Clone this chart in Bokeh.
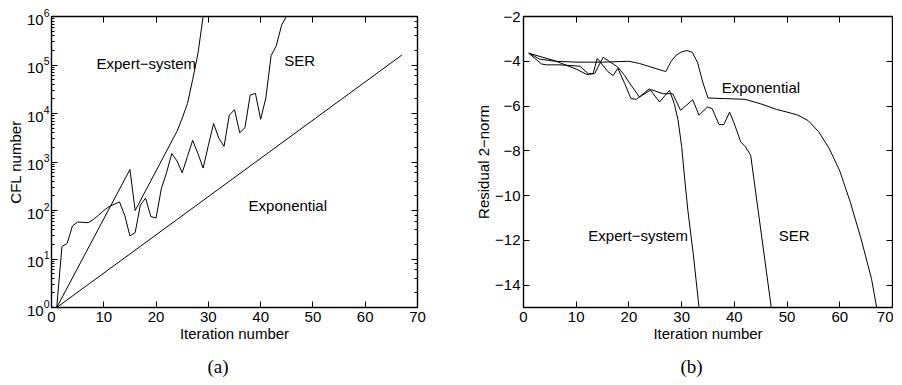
from bokeh.plotting import figure
from bokeh.models import Range1d, LinearAxis, LogAxis, CustomJSTickFormatter, FixedTicker, Spacer
from bokeh.layouts import row
from bokeh.core.properties import value
from bokeh.embed import file_html
from bokeh.resources import INLINE

# ---------------- data: (a) CFL number ----------------
x_ticks = [0, 10, 20, 30, 40, 50, 60, 70]

exp_iter_a = [1, 67]
exp_cfl = [1, 1.6e5]

es_iter_a = [1, 15, 16, 24, 25, 26, 27, 28, 29]
es_cfl = [1, 700, 100, 4300, 8000, 16000, 50000, 170000, 1.0e6]

ser_iter_a = list(range(1, 46))
ser_cfl = [1, 18, 21, 48, 58, 57, 56, 65, 80, 100,
           120, 135, 150, 80, 30, 35, 130, 180, 75, 70,
           280, 600, 1500, 1050, 600, 1300, 2800, 1500, 750, 2200,
           6200, 3100, 2100, 9200, 12000, 4000, 5100, 24000, 26000, 7600,
           21000, 156000, 250000, 660000, 1.05e6]

# ---------------- data: (b) residual 2-norm ----------------
y_ticks_b = [-14, -12, -10, -8, -6, -4, -2]

exp_iter_b = [1, 3, 6, 10, 15, 20, 22, 27, 28, 29, 30, 31, 32, 33, 34, 35,
              42, 45, 48, 50, 52, 54, 56, 58, 60, 62, 64, 66, 67]
exp_res = [-3.63, -3.9, -4.0, -4.04, -4.04, -4.0, -4.1, -4.46, -4.0, -3.72,
           -3.58, -3.52, -3.6, -4.04, -4.93, -5.64, -5.7, -5.9, -6.15, -6.27,
           -6.4, -6.65, -7.15, -7.9, -8.9, -10.3, -11.9, -13.7, -15.0]

es_iter_b = [1, 3.4, 4.4, 6.9, 10.7, 12.3, 13.2, 14, 16, 17, 17.9, 19.2, 20.4,
             21.4, 23.9, 25.8, 27.7, 28.6, 29.3, 30, 30.6, 31.2, 32.2, 33.3]
es_res = [-3.64, -4.12, -4.16, -4.16, -4.22, -4.56, -4.55, -3.87, -4.46, -4.64,
          -4.31, -5.0, -5.67, -5.7, -5.23, -5.82, -5.3, -5.9, -6.6, -7.8,
          -9.3, -10.7, -12.6, -15.0]

ser_iter_b = [1, 6, 10, 12, 13.5, 15.1, 17.9, 19.2, 20.2, 22, 24.2, 26.5, 28.3,
              29.8, 32.1, 33.3, 34.9, 35.8, 37.1, 38, 39.1, 40.1, 41.2, 42.1,
              43.1, 47]
ser_res = [-3.64, -3.98, -4.35, -4.59, -4.55, -3.82, -4.26, -4.64, -5.0, -5.6,
           -5.27, -5.45, -5.45, -6.19, -5.72, -6.41, -6.04, -6.12, -6.83, -6.83,
           -6.27, -6.86, -7.6, -7.82, -8.2, -15.0]

FONT = "Liberation Sans"
FS = "15px"
BLANK = CustomJSTickFormatter(code="return '';")


def style_axis(ax, labels=True, minor=True, standoff=4):
    ax.axis_line_color = "black"
    ax.axis_line_width = 1.4
    ax.major_tick_in = 6
    ax.major_tick_out = 0
    ax.minor_tick_in = 3
    ax.minor_tick_out = 0
    ax.major_tick_line_color = "black"
    ax.minor_tick_line_color = "black" if minor else None
    ax.major_label_text_font = FONT
    ax.major_label_text_color = "black"
    ax.major_label_text_font_size = FS
    ax.axis_label_text_font = FONT
    ax.axis_label_text_font_size = FS
    ax.axis_label_text_font_style = "normal"
    ax.axis_label_text_color = "black"
    ax.axis_label_standoff = 0
    if labels:
        ax.major_label_standoff = standoff
    else:
        ax.formatter = BLANK
        ax.major_label_standoff = 0


def style_title(p, offset):
    p.title.align = "left"
    p.title.offset = offset
    p.title.standoff = 18
    p.title.text_font = "Liberation Serif"
    p.title.text_font_size = "19px"
    p.title.text_font_style = "normal"
    p.title.text_color = "black"


# ---------------- figure (a) ----------------
p1 = figure(frame_width=366, frame_height=291, x_range=Range1d(0, 70), y_range=Range1d(1, 1e6),
            y_axis_type="log", output_backend="svg", toolbar_location=None,
            title="(a)", title_location="below",
            min_border_left=36, min_border_right=30, min_border_top=16, min_border_bottom=60)
p1.grid.visible = False
p1.outline_line_color = None
p1.background_fill_color = "white"
p1.xaxis.ticker = FixedTicker(ticks=x_ticks)
p1.xaxis.axis_label = "Iteration number"
p1.yaxis.axis_label = "CFL number"
style_axis(p1.xaxis[0], labels=True, minor=False, standoff=4)
style_axis(p1.yaxis[0], labels=True, minor=True, standoff=2)
top1 = LinearAxis(ticker=FixedTicker(ticks=x_ticks))
style_axis(top1, labels=False, minor=False)
p1.add_layout(top1, "above")
right1 = LogAxis()
style_axis(right1, labels=False, minor=True)
p1.add_layout(right1, "right")
style_title(p1, 156)

p1.line(exp_iter_a, exp_cfl, line_color="black", line_width=1)
p1.line(es_iter_a, es_cfl, line_color="black", line_width=1)
p1.line(ser_iter_a, ser_cfl, line_color="black", line_width=1)

p1.text(x=[8.6, 44.5, 37.7], y=[10**5.03, 10**5.09, 10**2.1],
        text=["Expert\u2212system", "SER", "Exponential"],
        text_font=value(FONT), text_font_size=value(FS), text_color="black",
        text_align="left", text_baseline="middle")

# ---------------- figure (b) ----------------
p2 = figure(frame_width=369, frame_height=291, x_range=Range1d(0, 70), y_range=Range1d(-15, -2),
            output_backend="svg", toolbar_location=None,
            title="(b)", title_location="below",
            min_border_left=76, min_border_right=1, min_border_top=16, min_border_bottom=60)
p2.grid.visible = False
p2.outline_line_color = None
p2.background_fill_color = "white"
p2.xaxis.ticker = FixedTicker(ticks=x_ticks)
p2.yaxis.ticker = FixedTicker(ticks=y_ticks_b)
p2.yaxis.formatter = CustomJSTickFormatter(
    code="return tick < 0 ? '\u2212' + Math.abs(tick) : String(tick);")
p2.xaxis.axis_label = "Iteration number"
p2.yaxis.axis_label = "Residual 2\u2212norm"
style_axis(p2.xaxis[0], labels=True, minor=False, standoff=4)
style_axis(p2.yaxis[0], labels=True, minor=False, standoff=3)
top2 = LinearAxis(ticker=FixedTicker(ticks=x_ticks))
style_axis(top2, labels=False, minor=False)
p2.add_layout(top2, "above")
right2 = LinearAxis(ticker=FixedTicker(ticks=y_ticks_b))
style_axis(right2, labels=False, minor=False)
p2.add_layout(right2, "right")
style_title(p2, 157)

p2.line(exp_iter_b, exp_res, line_color="black", line_width=1)
p2.line(es_iter_b, es_res, line_color="black", line_width=1)
p2.line(ser_iter_b, ser_res, line_color="black", line_width=1)

p2.text(x=[37.6, 12.3, 48.4], y=[-5.16, -11.78, -11.78],
        text=["Exponential", "Expert\u2212system", "SER"],
        text_font=value(FONT), text_font_size=value(FS), text_color="black",
        text_align="left", text_baseline="middle")

layout = row(Spacer(width=3, height=10), p1, p2, spacing=0)
open("out.html", "w").write(file_html(layout, INLINE))
